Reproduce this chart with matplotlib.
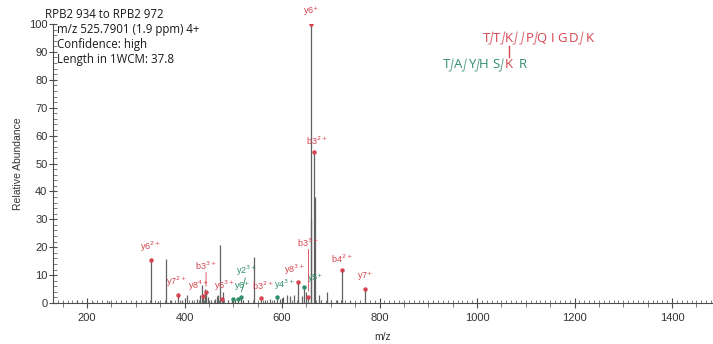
import matplotlib
matplotlib.use("Agg")
import matplotlib.pyplot as plt
from matplotlib.lines import Line2D
from matplotlib.ticker import MultipleLocator

RED = "#d4454f"
GREEN = "#2f8f68"
PEAK = "0.38"

HEADER = "RPB2 934 to RPB2 972"
INFO = ["m/z 525.7901 (1.9 ppm) 4+", "Confidence: high", "Length in 1WCM: 37.8"]

# unannotated peaks (m/z, relative abundance)
plain_mz = [150, 180, 212, 245, 270, 300, 345, 362, 372, 395, 404.5, 415, 425,
            432, 435, 441, 447, 455, 462, 466, 468, 473, 478, 490, 497, 504, 520,
            530, 542.6, 565, 575, 583, 595, 602, 610, 617, 625, 640, 650, 660,
            668, 676, 680, 692, 700, 713, 740, 790, 845, 910, 1010]
plain_int = [0.5, 1.0, 0.5, 0.6, 0.4, 0.6, 0.8, 15.7, 1.0, 1.0, 2.8, 1.2, 1.5,
             3.0, 6.5, 5.0, 2.0, 1.2, 1.5, 2.5, 3.0, 20.8, 4.0, 1.0, 1.0, 1.2, 1.0,
             1.2, 16.6, 1.0, 1.5, 1.0, 1.5, 2.0, 3.0, 2.5, 3.0, 2.5, 4.0, 30.0,
             38.0, 2.7, 1.0, 3.8, 1.0, 1.0, 0.6, 0.5, 0.4, 0.3, 0.3]

# annotated fragment peaks (empty label = matched dot only)
frag_mz = [330.5, 386, 438, 444, 476, 500, 510, 515, 556, 589, 633.5, 645, 654,
           658.8, 665.5, 722.5, 771]
frag_int = [15.5, 3.0, 2.5, 4.0, 1.6, 1.5, 1.5, 2.0, 1.9, 2.3, 7.4, 5.9, 2.3,
            100, 54, 11.8, 5.1]
frag_lab = ["y6$^{2+}$", "y7$^{2+}$", "y8$^{4+}$", "b3$^{3+}$", "y6$^{3+}$",
            "", "y6$^{+}$", "y2$^{3+}$", "b3$^{2+}$", "y4$^{3+}$",
            "y8$^{3+}$", "y5$^{+}$", "b3$^{3+}$", "y6$^{+}$", "b3$^{2+}$",
            "b4$^{2+}$", "y7$^{+}$"]
frag_col = ["r", "r", "r", "r", "r", "g", "g", "g", "r", "g", "r", "g", "r",
            "r", "r", "r", "r"]
# label offsets in points (dx, dy)
frag_off = [(0, 4), (-1, 4), (-3, 2), (0, 14), (2, 4), (0, 0), (3, 4), (4, 14),
            (2, 4), (6, 3), (-3, 4), (8, 1), (0, 34), (0, 4), (2, 4), (0, 4), (0, 4)]

ALPHA_SEQ = ["T", "T", "K", "P", "Q", "I", "G", "D", "K"]
ALPHA_X = [486.7, 496.7, 509.3, 530, 541.7, 553, 561.7, 573, 590]
ALPHA_CUTS = [491.7, 503.5, 516, 522.7, 536, 581.7]
BETA_SEQ = ["T", "A", "Y", "H", "S", "K", "R"]
BETA_X = [446.7, 458, 471.7, 484, 496, 509.3, 522.7]
BETA_CUTS = [452, 465, 478, 502]
LINK_INDEX = 5

W, H = 713, 344
fig = plt.figure(figsize=(W / 100, H / 100), dpi=100)
ax = fig.add_axes([53 / W, 41 / H, (W - 53) / W, 279 / H])

ax.vlines(plain_mz, 0, plain_int, color=PEAK, lw=0.9)
ax.vlines(frag_mz, 0, frag_int, color=PEAK, lw=0.9)
for mz, inten, lab, c, off in zip(frag_mz, frag_int, frag_lab, frag_col, frag_off):
    col = RED if c == "r" else GREEN
    ax.plot(mz, inten, "o", ms=3.2, color=col, mec="none")
    if not lab:
        continue
    ax.annotate(lab, (mz, inten), xytext=off, textcoords="offset points",
                ha="center", va="bottom", fontsize=6.5, color=col,
                family="Liberation Sans")
    if off[1] > 10:
        ax.annotate("", (mz, inten + 1), xytext=(off[0], off[1]),
                    textcoords="offset points",
                    arrowprops=dict(arrowstyle="-", color=col, lw=0.6))

ax.set_xlim(130, 1484)
ax.set_ylim(0, 100)
ax.spines["top"].set_visible(False)
ax.spines["right"].set_visible(False)
for s in ("left", "bottom"):
    ax.spines[s].set_color("0.3")
    ax.spines[s].set_linewidth(0.8)

ax.xaxis.set_major_locator(MultipleLocator(200))
ax.xaxis.set_minor_locator(MultipleLocator(10))
ax.yaxis.set_major_locator(MultipleLocator(10))
ax.yaxis.set_minor_locator(MultipleLocator(2))
ax.tick_params(axis="x", which="major", direction="inout", length=7, width=0.8,
               color="0.3", labelsize=8, pad=4)
ax.tick_params(axis="x", which="minor", direction="in", length=2, width=0.6, color="0.4")
ax.tick_params(axis="y", which="major", direction="inout", length=6, width=0.8,
               color="0.3", labelsize=8, pad=1)
ax.tick_params(axis="y", which="minor", direction="in", length=3, width=0.6, color="0.4")
for lab in ax.get_xticklabels() + ax.get_yticklabels():
    lab.set_family("Liberation Sans")
    lab.set_color("0.2")

sec = ax.secondary_xaxis(0)
sec.xaxis.set_major_locator(MultipleLocator(50))
sec.tick_params(direction="out", length=3, width=0.6, color="0.4", labelbottom=False)
sec.spines["bottom"].set_visible(False)

ax.set_xlabel("m/z", fontsize=7.5, family="Liberation Sans", color="0.2", labelpad=6)
ax.set_ylabel("Relative Abundance", fontsize=7.5, family="Liberation Sans",
              color="0.2", labelpad=4)


def fx(px):
    return px / W


def fy(py):
    return 1 - py / H


fig.text(fx(45), fy(14), HEADER, fontsize=8.3, family="Open Sans", color="0.1", va="center")
for i, line in enumerate(INFO):
    fig.text(fx(57), fy(30 + 14.5 * i), line, fontsize=8.3, family="Open Sans",
             color="0.1", va="center")


def draw_cut(xp, yc, col):
    fig.add_artist(Line2D([fx(xp + 1.2), fx(xp - 1.2), fx(xp - 3)],
                          [fy(yc - 6), fy(yc + 6), fy(yc + 6)],
                          color=col, lw=0.7, alpha=0.8))


for ch, xp in zip(ALPHA_SEQ, ALPHA_X):
    fig.text(fx(xp), fy(38), ch, fontsize=9.5, family="Open Sans", color=RED,
             ha="center", va="center")
for xp in ALPHA_CUTS:
    draw_cut(xp, 38, RED)
for i, (ch, xp) in enumerate(zip(BETA_SEQ, BETA_X)):
    fig.text(fx(xp), fy(65), ch, fontsize=9.5, family="Open Sans",
             color=RED if i == LINK_INDEX else GREEN, ha="center", va="center")
for xp in BETA_CUTS:
    draw_cut(xp, 65, GREEN)
fig.add_artist(Line2D([fx(509.3), fx(509.3)], [fy(46), fy(57)], color=RED, lw=1.0))

fig.savefig("out.png", dpi=100)
